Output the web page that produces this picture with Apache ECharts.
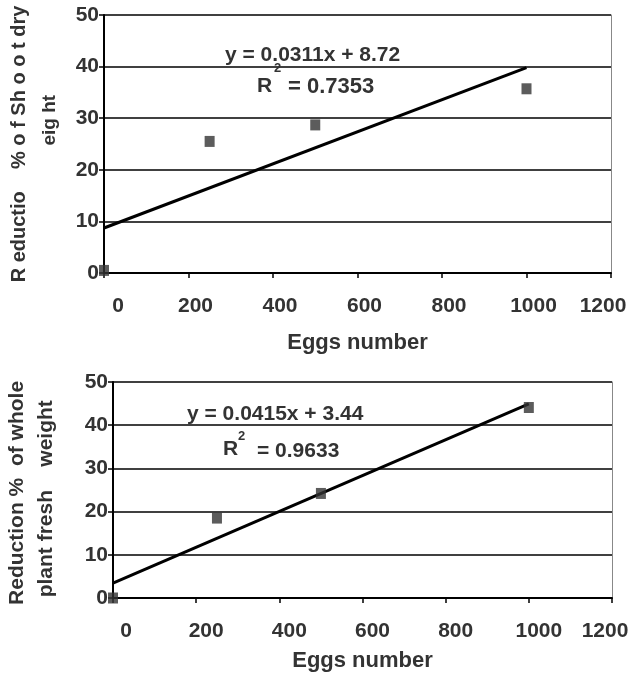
<!DOCTYPE html>
<html>
<head>
<meta charset="utf-8">
<script src="https://cdn.jsdelivr.net/npm/echarts@6/dist/echarts.min.js"></script>
<style>
html,body{margin:0;padding:0;background:#fff;}
#chart{width:634px;height:674px;}
</style>
</head>
<body>
<div id="chart"></div>
<script>
// ---- data ----
const xTicks = [0, 200, 400, 600, 800, 1000, 1200];
const yTicks = [0, 10, 20, 30, 40, 50];
const eggs = [0, 250, 500, 1000];
const shootDryReduction = [0.5, 25.5, 28.7, 35.7];
const wholePlantReduction = [0, 18.5, 24.2, 44.1];
const trendTopX = [0, 1000];
const trendTopY = [8.72, 39.82];
const trendBottomX = [0, 1000];
const trendBottomY = [3.44, 44.94];
const eqTop = 'y = 0.0311x + 8.72';
const r2Top = '= 0.7353';
const eqBottom = 'y = 0.0415x + 3.44';
const r2Bottom = '= 0.9633';

const TXT = '#333';
const FONT = 'Liberation Sans, Arial, sans-serif';

const pair = (xs, ys) => xs.map((x, i) => [x, ys[i]]);

function xLabelFmt() {
  return function (v) {
    let k = 'm';
    if (v === xTicks[0]) k = 'f';
    else if (v === xTicks[xTicks.length - 1]) k = 'l';
    return '{' + k + '|' + v + '}';
  };
}
// shifts: first/mid move right by n px, last moves left by n px
function xRich(first, mid, last) {
  const base = {fontSize: 21, fontWeight: 'bold', color: TXT, fontFamily: FONT};
  return {
    f: Object.assign({padding: [0, 0, 0, 2 * first]}, base),
    m: Object.assign({padding: [0, 0, 0, 2 * mid]}, base),
    l: Object.assign({padding: [0, 2 * last, 0, 0]}, base)
  };
}

function xAxis(gridIndex, nameGap, shifts) {
  return {
    type: 'value', gridIndex: gridIndex,
    min: xTicks[0], max: xTicks[xTicks.length - 1], interval: 200,
    axisLine: {show: true, onZero: false, lineStyle: {color: '#000', width: 2}},
    axisTick: {show: true, length: 5, lineStyle: {color: '#000', width: 1.5}},
    axisLabel: {margin: 23, formatter: xLabelFmt(), rich: xRich(shifts[0], shifts[1], shifts[2])},
    splitLine: {show: false},
    name: 'Eggs number', nameLocation: 'middle', nameGap: nameGap,
    nameTextStyle: {fontSize: 22, fontWeight: 'bold', color: TXT, fontFamily: FONT}
  };
}
function yAxis(gridIndex, name, nameGap, rich, lineHeight) {
  return {
    type: 'value', gridIndex: gridIndex,
    min: yTicks[0], max: yTicks[yTicks.length - 1], interval: 10,
    axisLine: {show: true, lineStyle: {color: '#000', width: 2}},
    axisTick: {show: true, length: 5, lineStyle: {color: '#000', width: 1.5}},
    axisLabel: {margin: 5, fontSize: 21, fontWeight: 'bold', color: TXT, fontFamily: FONT},
    splitLine: {show: true, lineStyle: {color: '#000', width: 1.6}},
    name: name, nameLocation: 'middle', nameGap: nameGap,
    nameTextStyle: {fontSize: 20, fontWeight: 'bold', color: TXT, fontFamily: FONT, lineHeight: lineHeight, rich: rich}
  };
}
function borderAxis(gridIndex) {
  return {
    type: 'value', gridIndex: gridIndex, position: 'right',
    min: yTicks[0], max: yTicks[yTicks.length - 1], interval: 10,
    axisLine: {show: true, lineStyle: {color: '#888', width: 1}},
    axisTick: {show: false}, axisLabel: {show: false}, splitLine: {show: false}
  };
}

const topName = '{a|R eductio    % o f Sh o o t dry}\n{b|         eig ht}';
const topRich = {
  a: {fontSize: 20, fontWeight: 'bold', color: TXT, fontFamily: FONT, lineHeight: 30},
  b: {fontSize: 19, fontWeight: 'bold', color: TXT, fontFamily: FONT, lineHeight: 30}
};
const bottomName = '{a|Reduction %  of whole }\n{a|plant fresh    weight   }';
const bottomRich = {
  a: {fontSize: 21, fontWeight: 'bold', color: TXT, fontFamily: FONT, lineHeight: 29}
};

const symStyle = {color: '#333'};

const option = {
  backgroundColor: '#fff',
  animation: false,
  grid: [
    {left: 104, top: 15, width: 507, height: 258, outerBoundsMode: 'none', containLabel: false},
    {left: 113, top: 382, width: 499, height: 216, outerBoundsMode: 'none', containLabel: false}
  ],
  xAxis: [xAxis(0, 59, [14, 7, 8]), xAxis(1, 52, [13, 10, 7])],
  yAxis: [
    yAxis(0, topName, 30, topRich, 30),
    yAxis(1, bottomName, 52, bottomRich, 29),
    borderAxis(0), borderAxis(1)
  ],
  series: [
    {type: 'line', xAxisIndex: 0, yAxisIndex: 0, data: pair(trendTopX, trendTopY),
     symbol: 'none', lineStyle: {color: '#000', width: 3}, z: 3},
    {type: 'scatter', xAxisIndex: 0, yAxisIndex: 0, data: pair(eggs, shootDryReduction),
     symbol: 'rect', symbolSize: [10, 11], itemStyle: symStyle, z: 4},
    {type: 'line', xAxisIndex: 1, yAxisIndex: 1, data: pair(trendBottomX, trendBottomY),
     symbol: 'none', lineStyle: {color: '#000', width: 3}, z: 3},
    {type: 'scatter', xAxisIndex: 1, yAxisIndex: 1, data: pair(eggs, wholePlantReduction),
     symbol: 'rect', symbolSize: [10, 11], itemStyle: symStyle, z: 4}
  ],
  graphic: [
    {type: 'text', left: 225, top: 45, z: 10, style: {text: eqTop, fill: TXT, font: 'bold 21px ' + FONT}},
    {type: 'text', left: 257, top: 76, z: 10, style: {text: 'R', fill: TXT, font: 'bold 21px ' + FONT}},
    {type: 'text', left: 274, top: 62, z: 10, style: {text: '2', fill: TXT, font: 'bold 13px ' + FONT}},
    {type: 'text', left: 288, top: 76, z: 10, style: {text: r2Top, fill: TXT, font: 'bold 22px ' + FONT}},
    {type: 'text', left: 187, top: 404, z: 10, style: {text: eqBottom, fill: TXT, font: 'bold 21px ' + FONT}},
    {type: 'text', left: 223, top: 439, z: 10, style: {text: 'R', fill: TXT, font: 'bold 21px ' + FONT}},
    {type: 'text', left: 238, top: 430, z: 10, style: {text: '2', fill: TXT, font: 'bold 13px ' + FONT}},
    {type: 'text', left: 257, top: 441, z: 10, style: {text: r2Bottom, fill: TXT, font: 'bold 21px ' + FONT}}
  ]
};

const chart = echarts.init(document.getElementById('chart'), null, {renderer: 'canvas'});
chart.setOption(option);
</script>
</body>
</html>
